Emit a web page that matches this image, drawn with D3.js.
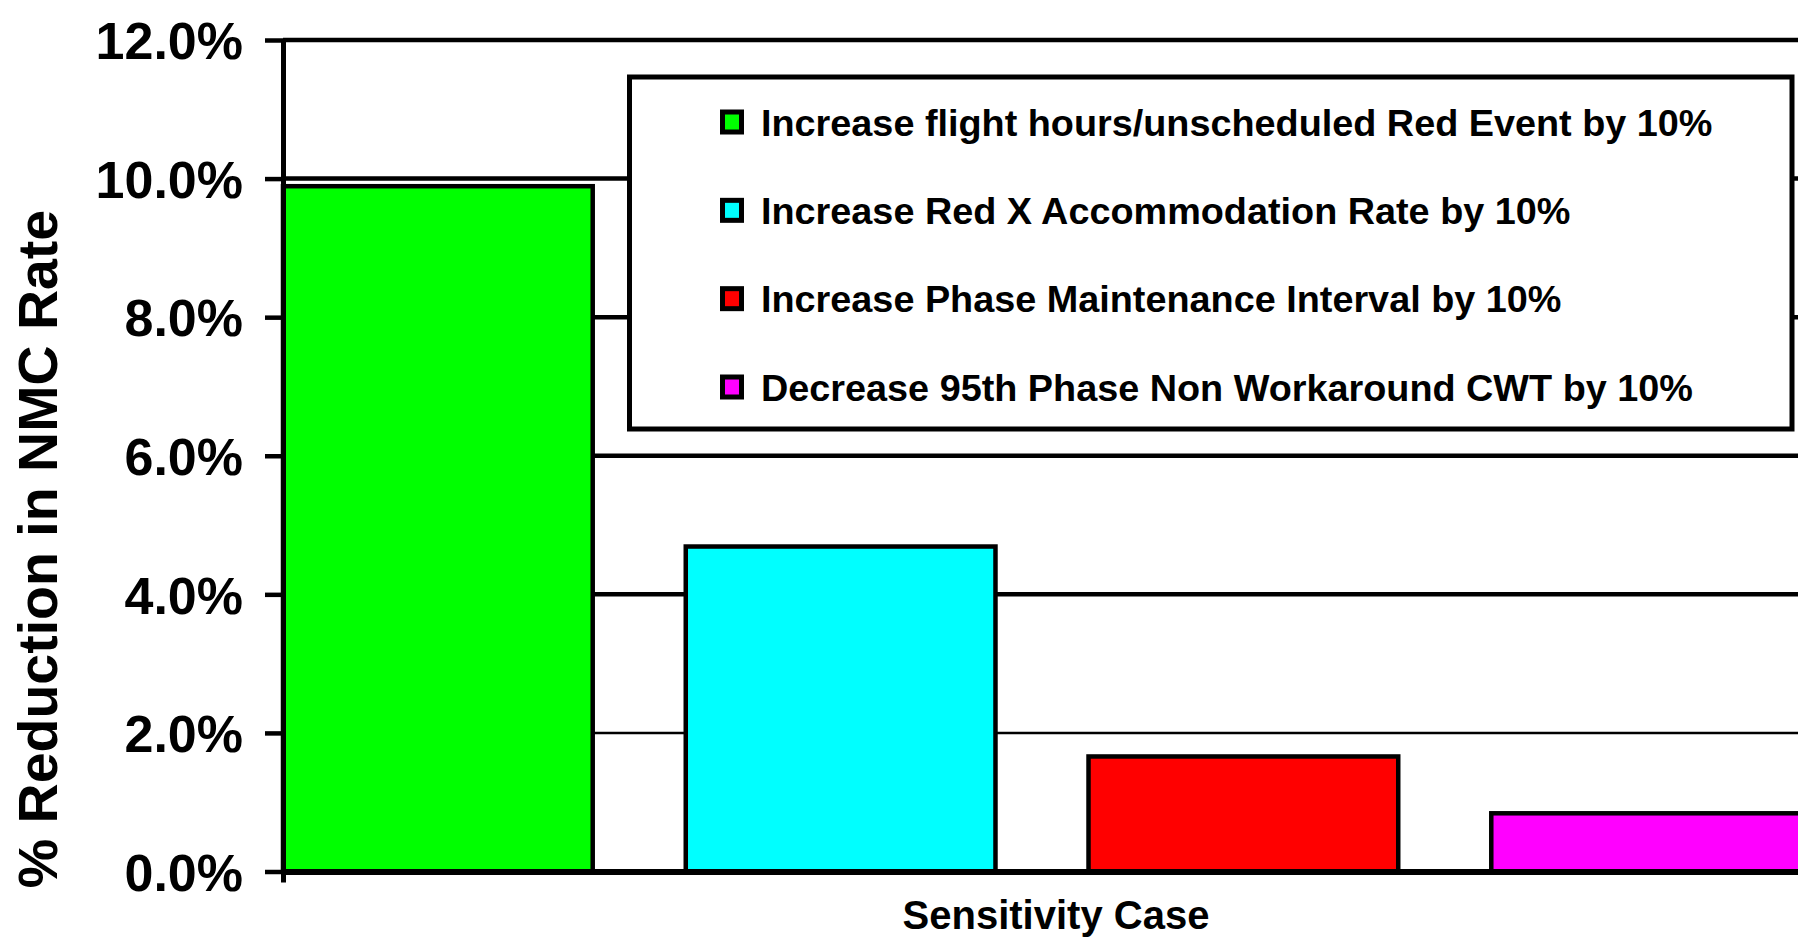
<!DOCTYPE html>
<html>
<head>
<meta charset="utf-8">
<script src="https://cdn.jsdelivr.net/npm/d3@7/dist/d3.min.js"></script>
<style>
  html, body { margin: 0; padding: 0; background: #ffffff; overflow: hidden; }
  svg { display: block; }
  text { font-family: "Liberation Sans", Arial, Helvetica, sans-serif; font-weight: bold; fill: #000; }
</style>
</head>
<body>
<svg id="chart" width="1798" height="938"></svg>
<script>
// Sensitivity cases (one bar each) and their reduction in NMC rate, in percent
const cases = [
  "Increase flight hours/unscheduled Red Event by 10%",
  "Increase Red X Accommodation Rate by 10%",
  "Increase Phase Maintenance Interval by 10%",
  "Decrease 95th Phase Non Workaround CWT by 10%"
];
const reductions = [9.89, 4.69, 1.66, 0.84];
const caseColors = ["#00ff00", "#00ffff", "#ff0000", "#ff00ff"];
const yTickValues = [0, 2, 4, 6, 8, 10, 12];
const xTitle = "Sensitivity Case";
const yTitle = "% Reduction in NMC Rate";

const svg = d3.select("#chart");
const W = 1798, H = 938;
svg.append("rect").attr("width", W).attr("height", H).attr("fill", "#fff");

// Plot frame
const plot = { left: 283, right: 1801, top: 40, bottom: 871.5 };

const y = d3.scaleLinear().domain([0, 12]).range([plot.bottom, plot.top]);
const x = d3.scaleBand()
  .domain(cases)
  .range([plot.left, plot.right])
  .paddingInner(0.231)
  .paddingOuter(0);

// Horizontal gridlines (behind the bars)
svg.append("g")
  .selectAll("line")
  .data(yTickValues.filter(d => d > 0))
  .join("line")
  .attr("x1", plot.left)
  .attr("x2", plot.right)
  .attr("y1", d => y(d))
  .attr("y2", d => y(d))
  .attr("stroke", "#000")
  .attr("stroke-width", d => d === 2 ? 2.5 : 4.5);

// Bars
svg.append("g")
  .selectAll("rect")
  .data(cases)
  .join("rect")
  .attr("x", d => x(d))
  .attr("y", (d, i) => y(reductions[i]))
  .attr("width", x.bandwidth())
  .attr("height", (d, i) => y(0) - y(reductions[i]))
  .attr("fill", (d, i) => caseColors[i])
  .attr("stroke", "#000")
  .attr("stroke-width", 4.5);

// Y axis
const yAxis = d3.axisLeft(y)
  .tickValues(yTickValues)
  .tickFormat(d => d.toFixed(1) + "%")
  .tickSize(18)
  .tickSizeOuter(0)
  .tickPadding(22);

const gy = svg.append("g")
  .attr("transform", `translate(${plot.left},0)`)
  .call(yAxis);
gy.select(".domain").attr("stroke", "#000").attr("stroke-width", 5);
gy.selectAll(".tick line").attr("stroke", "#000").attr("stroke-width", 4.5);
gy.selectAll(".tick text")
  .attr("dy", "0.36em")
  .style("font-family", "'Liberation Sans', Arial, sans-serif")
  .style("font-weight", "bold")
  .style("font-size", "52px")
  .attr("fill", "#000");

// X axis baseline with a single category tick
const gx = svg.append("g")
  .attr("transform", `translate(0,${plot.bottom})`)
  .call(d3.axisBottom(d3.scaleLinear().domain([0, 1]).range([plot.left, plot.right]))
    .tickValues([0])
    .tickSize(11)
    .tickSizeOuter(0)
    .tickFormat(""));
gx.select(".domain").attr("stroke", "#000").attr("stroke-width", 6);
gx.selectAll(".tick line").attr("stroke", "#000").attr("stroke-width", 5);

// Axis titles
svg.append("text")
  .attr("x", 1056)
  .attr("y", 929)
  .attr("text-anchor", "middle")
  .style("font-size", "40px")
  .text(xTitle);

svg.append("text")
  .attr("transform", "translate(57,549) rotate(-90)")
  .attr("text-anchor", "middle")
  .style("font-size", "55.5px")
  .text(yTitle);

// Legend
const legend = svg.append("g");
legend.append("rect")
  .attr("x", 629.5)
  .attr("y", 77)
  .attr("width", 1162.5)
  .attr("height", 352)
  .attr("fill", "#fff")
  .attr("stroke", "#000")
  .attr("stroke-width", 5);

const rowY = d3.scalePoint().domain(cases).range([122, 387]);

const items = legend.selectAll("g.item")
  .data(cases)
  .join("g")
  .attr("class", "item")
  .attr("transform", d => `translate(0,${rowY(d)})`);

items.append("rect")
  .attr("x", 722.5)
  .attr("y", -10)
  .attr("width", 19)
  .attr("height", 20)
  .attr("fill", (d, i) => caseColors[i])
  .attr("stroke", "#000")
  .attr("stroke-width", 5);

items.append("text")
  .attr("x", 761)
  .attr("y", 13.6)
  .style("font-size", "37.8px")
  .text(d => d);
</script>
</body>
</html>
